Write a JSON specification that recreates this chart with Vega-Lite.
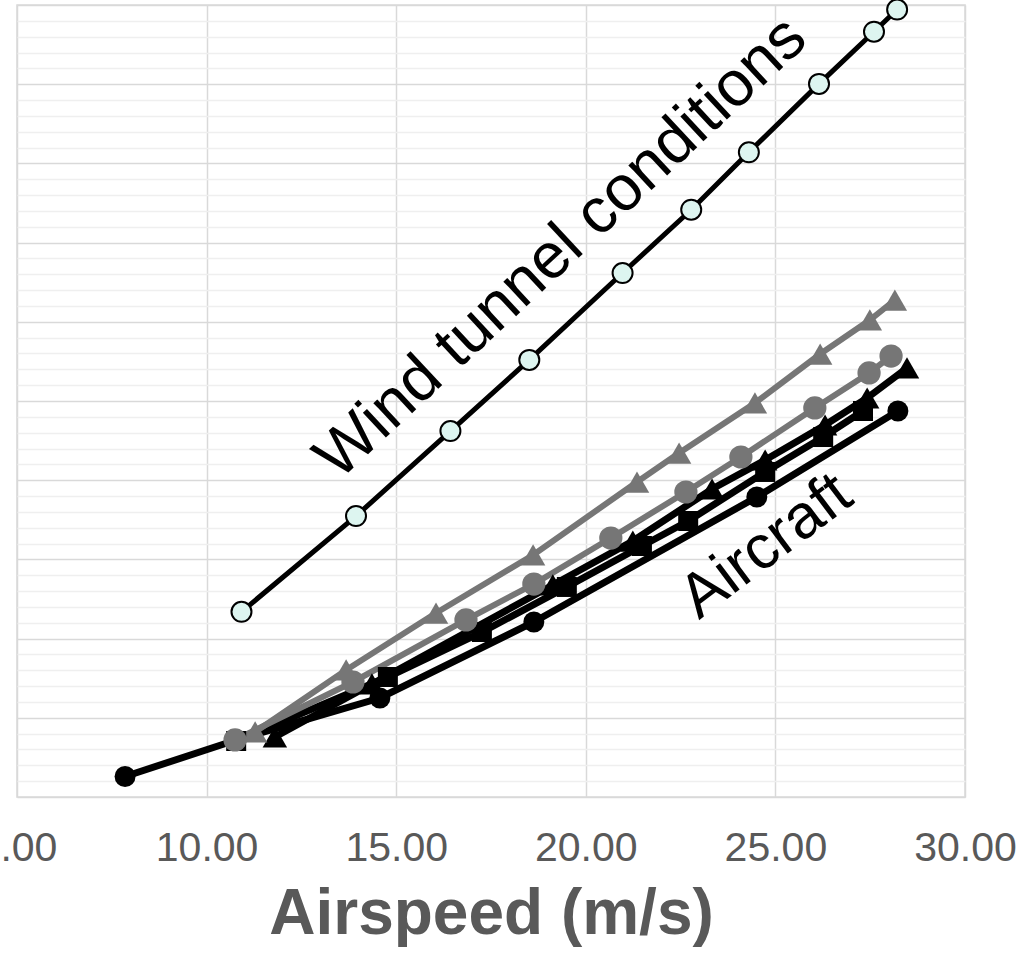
{
  "$schema": "https://vega.github.io/schema/vega-lite/v6.json",
  "width": 948,
  "height": 792,
  "autosize": {"type": "none"},
  "padding": {"left": 17, "top": 5, "right": 71, "bottom": 157},
  "background": "white",
  "config": {"view": {"stroke": "#D9D9D9", "strokeWidth": 1.5}, "font": "Liberation Sans"},
  "datasets": {
    "pts": [
      {"series": "Aircraft 1", "x": 7.85, "y": 0.259},
      {"series": "Aircraft 1", "x": 10.78, "y": 0.72},
      {"series": "Aircraft 1", "x": 14.57, "y": 1.25},
      {"series": "Aircraft 1", "x": 18.63, "y": 2.21},
      {"series": "Aircraft 1", "x": 24.51, "y": 3.788},
      {"series": "Aircraft 1", "x": 28.23, "y": 4.874},
      {"series": "Aircraft 2", "x": 10.78, "y": 0.707},
      {"series": "Aircraft 2", "x": 14.78, "y": 1.515},
      {"series": "Aircraft 2", "x": 17.26, "y": 2.083},
      {"series": "Aircraft 2", "x": 19.5, "y": 2.652},
      {"series": "Aircraft 2", "x": 21.48, "y": 3.169},
      {"series": "Aircraft 2", "x": 22.7, "y": 3.485},
      {"series": "Aircraft 2", "x": 24.73, "y": 4.104},
      {"series": "Aircraft 2", "x": 26.26, "y": 4.545},
      {"series": "Aircraft 2", "x": 27.31, "y": 4.874},
      {"series": "Aircraft 3", "x": 11.8, "y": 0.758},
      {"series": "Aircraft 3", "x": 14.36, "y": 1.427},
      {"series": "Aircraft 3", "x": 19.13, "y": 2.677},
      {"series": "Aircraft 3", "x": 21.24, "y": 3.232},
      {"series": "Aircraft 3", "x": 23.33, "y": 3.889},
      {"series": "Aircraft 3", "x": 24.73, "y": 4.255},
      {"series": "Aircraft 3", "x": 26.31, "y": 4.697},
      {"series": "Aircraft 3", "x": 27.42, "y": 5.038},
      {"series": "Aircraft 3", "x": 28.47, "y": 5.417},
      {"series": "Aircraft 4", "x": 10.75, "y": 0.72},
      {"series": "Aircraft 4", "x": 13.86, "y": 1.452},
      {"series": "Aircraft 4", "x": 16.84, "y": 2.235},
      {"series": "Aircraft 4", "x": 18.63, "y": 2.689},
      {"series": "Aircraft 4", "x": 20.66, "y": 3.27},
      {"series": "Aircraft 4", "x": 22.64, "y": 3.851},
      {"series": "Aircraft 4", "x": 24.09, "y": 4.293},
      {"series": "Aircraft 4", "x": 26.04, "y": 4.912},
      {"series": "Aircraft 4", "x": 27.47, "y": 5.354},
      {"series": "Aircraft 4", "x": 28.05, "y": 5.568},
      {"series": "Aircraft 5", "x": 11.28, "y": 0.821},
      {"series": "Aircraft 5", "x": 13.68, "y": 1.604},
      {"series": "Aircraft 5", "x": 16.05, "y": 2.323},
      {"series": "Aircraft 5", "x": 18.61, "y": 3.056},
      {"series": "Aircraft 5", "x": 21.35, "y": 3.977},
      {"series": "Aircraft 5", "x": 22.46, "y": 4.343},
      {"series": "Aircraft 5", "x": 24.46, "y": 4.975},
      {"series": "Aircraft 5", "x": 26.18, "y": 5.593},
      {"series": "Aircraft 5", "x": 27.49, "y": 6.023},
      {"series": "Aircraft 5", "x": 28.15, "y": 6.275},
      {"series": "Wind tunnel", "x": 10.92, "y": 2.338},
      {"series": "Wind tunnel", "x": 13.94, "y": 3.547},
      {"series": "Wind tunnel", "x": 16.43, "y": 4.62},
      {"series": "Wind tunnel", "x": 18.51, "y": 5.519},
      {"series": "Wind tunnel", "x": 20.97, "y": 6.616},
      {"series": "Wind tunnel", "x": 22.78, "y": 7.415},
      {"series": "Wind tunnel", "x": 24.3, "y": 8.14},
      {"series": "Wind tunnel", "x": 26.15, "y": 9.004},
      {"series": "Wind tunnel", "x": 27.6, "y": 9.663},
      {"series": "Wind tunnel", "x": 28.21, "y": 9.943}
    ],
    "notes": [
      {"label": "Wind tunnel conditions", "x": 19.35, "y": 6.93},
      {"label": "Aircraft", "x": 24.75, "y": 3.17}
    ]
  },
  "encoding": {
    "x": {
      "field": "x", "type": "quantitative",
      "scale": {"domain": [5, 30], "nice": false, "zero": false},
      "axis": {
        "values": [5, 10, 15, 20, 25, 30], "format": ".2f",
        "labelFontSize": 41, "labelColor": "#595959", "labelFont": "Liberation Sans",
        "labelFlush": false, "labelOverlap": false,
        "ticks": false, "tickSize": 0, "domain": false, "labelPadding": 31,
        "gridColor": "#D9D9D9", "gridWidth": 1.5,
        "title": "Airspeed (m/s)", "titleFontSize": 64, "titleFontWeight": "bold",
        "titleColor": "#595959", "titleFont": "Liberation Sans", "titlePadding": 14
      }
    },
    "y": {
      "field": "y", "type": "quantitative",
      "scale": {"domain": [0, 10], "nice": false},
      "axis": {
        "values": [0, 0.2, 0.4, 0.6, 0.8, 1, 1.2, 1.4, 1.6, 1.8, 2, 2.2, 2.4, 2.6, 2.8, 3, 3.2, 3.4, 3.6, 3.8, 4, 4.2, 4.4, 4.6, 4.8, 5, 5.2, 5.4, 5.6, 5.8, 6, 6.2, 6.4, 6.6, 6.8, 7, 7.2, 7.4, 7.6, 7.8, 8, 8.2, 8.4, 8.6, 8.8, 9, 9.2, 9.4, 9.6, 9.8, 10],
        "labels": false, "ticks": false, "domain": false, "title": null,
        "gridColor": {"condition": {"test": "abs(datum.value - round(datum.value)) < 0.01", "value": "#D9D9D9"}, "value": "#EFEFEF"},
        "gridWidth": 1.5
      }
    }
  },
  "layer": [
    {
      "data": {"name": "pts"},
      "transform": [{"filter": "datum.series === 'Aircraft 1' || datum.series === 'Aircraft 2' || datum.series === 'Aircraft 3'"}],
      "mark": {"type": "line", "clip": false, "strokeWidth": 7, "stroke": "#000000"},
      "encoding": {"detail": {"field": "series", "type": "nominal"}}
    },
    {
      "data": {"name": "pts"},
      "transform": [{"filter": "datum.series === 'Aircraft 4' || datum.series === 'Aircraft 5'"}],
      "mark": {"type": "line", "clip": false, "strokeWidth": 6, "stroke": "#767676"},
      "encoding": {"detail": {"field": "series", "type": "nominal"}}
    },
    {
      "data": {"name": "pts"},
      "transform": [{"filter": "datum.series === 'Wind tunnel'"}],
      "mark": {"type": "line", "clip": false, "strokeWidth": 5, "stroke": "#000000"},
      "encoding": {}
    },
    {
      "data": {"name": "pts"},
      "transform": [{"filter": "datum.series === 'Aircraft 1'"}],
      "mark": {"type": "point", "shape": "circle", "filled": true, "opacity": 1, "fill": "#000000", "strokeWidth": 0, "size": 440, "clip": false}
    },
    {
      "data": {"name": "pts"},
      "transform": [{"filter": "datum.series === 'Aircraft 2'"}],
      "mark": {"type": "point", "shape": "square", "filled": true, "opacity": 1, "fill": "#000000", "strokeWidth": 0, "size": 400, "clip": false}
    },
    {
      "data": {"name": "pts"},
      "transform": [{"filter": "datum.series === 'Aircraft 3'"}],
      "mark": {"type": "point", "shape": "triangle-up", "filled": true, "opacity": 1, "fill": "#000000", "strokeWidth": 0, "size": 600, "clip": false}
    },
    {
      "data": {"name": "pts"},
      "transform": [{"filter": "datum.series === 'Aircraft 4'"}],
      "mark": {"type": "point", "shape": "circle", "filled": true, "opacity": 1, "fill": "#767676", "strokeWidth": 0, "size": 540, "clip": false}
    },
    {
      "data": {"name": "pts"},
      "transform": [{"filter": "datum.series === 'Aircraft 5'"}],
      "mark": {"type": "point", "shape": "triangle-up", "filled": true, "opacity": 1, "fill": "#767676", "strokeWidth": 0, "size": 600, "clip": false}
    },
    {
      "data": {"name": "pts"},
      "transform": [{"filter": "datum.series === 'Wind tunnel'"}],
      "mark": {"type": "point", "shape": "circle", "filled": true, "opacity": 1, "fill": "#DDF5F0", "stroke": "#000000", "strokeWidth": 2, "size": 400, "clip": false}
    },
    {
      "data": {"name": "notes"},
      "mark": {"type": "text", "fontSize": 64, "font": "Liberation Sans", "angle": -43, "align": "center", "baseline": "middle", "color": "#000000", "clip": false},
      "transform": [{"filter": "datum.label === 'Wind tunnel conditions'"}],
      "encoding": {"text": {"field": "label"}}
    },
    {
      "data": {"name": "notes"},
      "mark": {"type": "text", "fontSize": 62, "font": "Liberation Sans", "angle": -37, "align": "center", "baseline": "middle", "color": "#000000", "clip": false},
      "transform": [{"filter": "datum.label === 'Aircraft'"}],
      "encoding": {"text": {"field": "label"}}
    }
  ]
}
